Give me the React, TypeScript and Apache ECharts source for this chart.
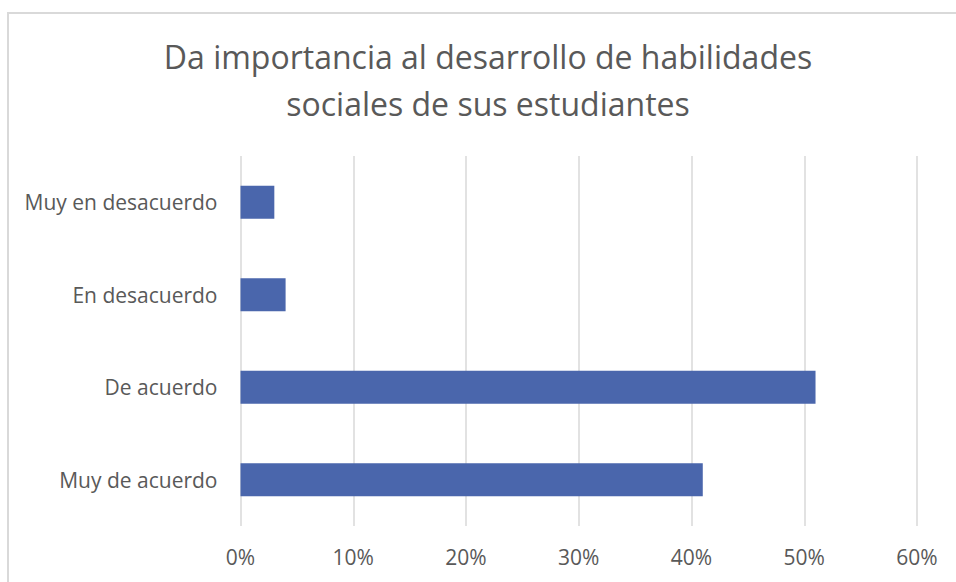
import React, { useEffect, useRef } from "react";
import * as echarts from "echarts";

const categories = ["Muy en desacuerdo", "En desacuerdo", "De acuerdo", "Muy de acuerdo"];
const values = [3, 4, 51, 41];
const xTicks = [0, 10, 20, 30, 40, 50, 60];
const titleText = "Da importancia al desarrollo de habilidades\nsociales de sus estudiantes";

const FONT = "'Open Sans', sans-serif";
const GRAY = "#595959";

export default function App() {
  const ref = useRef<HTMLDivElement>(null);
  useEffect(() => {
    if (!ref.current) return;
    const chart = echarts.init(ref.current, null, { renderer: "svg" });
    chart.setOption({
      animation: false,
      backgroundColor: "#ffffff",
      title: {
        text: titleText,
        left: 488,
        textAlign: "center",
        top: 33,
        padding: 0,
        textStyle: {
          fontFamily: FONT,
          fontSize: 32,
          fontWeight: "normal",
          color: GRAY,
          lineHeight: 47,
        },
      },
      graphic: [
        {
          type: "rect",
          shape: { x: 8, y: 13, width: 1200, height: 1200 },
          style: { fill: "none", stroke: "#d9d9d9", lineWidth: 2 },
          silent: true,
        },
      ],
      grid: { left: 240.5, right: 39, top: 156, bottom: 56, containLabel: false },
      xAxis: {
        type: "value",
        min: xTicks[0],
        max: xTicks[xTicks.length - 1],
        interval: 10,
        axisLine: { show: false },
        axisTick: { show: false },
        splitLine: { lineStyle: { color: "#d9d9d9", width: 1.5 } },
        axisLabel: {
          formatter: (v: number) => `${v}%`,
          fontFamily: FONT,
          fontSize: 21,
          color: GRAY,
          margin: 20,
        },
      },
      yAxis: {
        type: "category",
        data: categories,
        inverse: true,
        axisLine: { show: false },
        axisTick: { show: false },
        splitLine: { show: false },
        axisLabel: {
          fontFamily: FONT,
          fontSize: 21,
          color: GRAY,
          margin: 23,
        },
      },
      series: [
        {
          type: "bar",
          data: values,
          barWidth: 33,
          itemStyle: { color: "#4a66ac" },
        },
      ],
    });
    return () => chart.dispose();
  }, []);
  return (
    <div
      ref={ref}
      style={{ position: "fixed", left: 0, top: 0, width: 956, height: 582 }}
    />
  );
}
